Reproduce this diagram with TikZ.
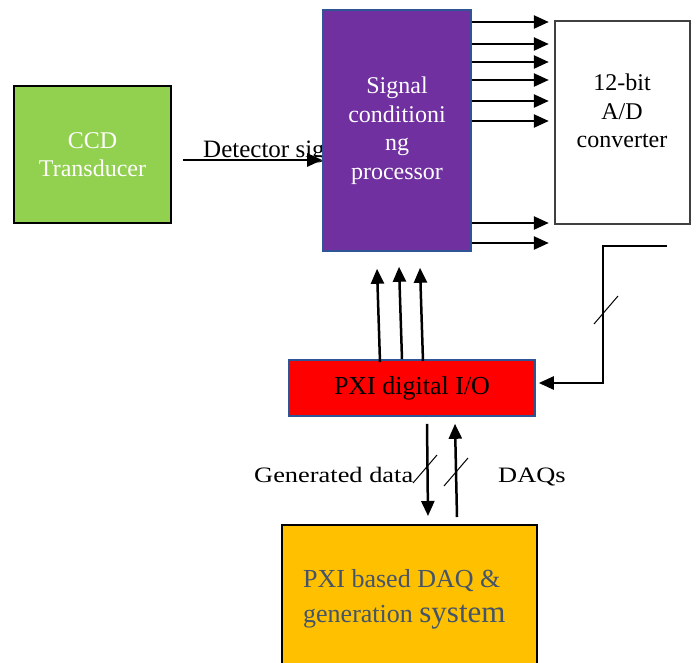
\documentclass[tikz,border=0pt]{standalone}
\usepackage{fontspec}
\setmainfont{Liberation Serif}
\newfontfamily\widefont[FakeStretch=1.2]{Liberation Serif}
\usetikzlibrary{arrows.meta,calc}

\definecolor{ccdgreen}{HTML}{92D050}
\definecolor{procpurple}{HTML}{7030A0}
\definecolor{edgeblue}{HTML}{2F5597}
\definecolor{pxired}{HTML}{FF0000}
\definecolor{daqyellow}{HTML}{FFC000}
\definecolor{daqtext}{HTML}{44546A}
\definecolor{adcedge}{HTML}{404040}

\begin{document}
\begin{tikzpicture}[x=1pt,y=-1pt,
  box/.style={draw, line width=1.6pt, inner sep=0pt},
  conn/.style={line width=2.5pt, -{Triangle[length=15pt,width=13pt]}},
  slash/.style={line width=1pt},
  lbl/.style={font=\fontsize{24}{28.5}\selectfont, inner sep=0pt}
]
\clip (0,0) rectangle (696,662);
\fill[white] (0,0) rectangle (696,662);

% CCD transducer
\node[box, fill=ccdgreen, draw=black, minimum width=157pt, minimum height=137pt,
      text=white, align=center, lbl] (ccd) at (92.5,154.5) {CCD\\Transducer};

% label behind the processor box
\node[lbl, anchor=base west, font=\fontsize{25}{30}\selectfont] (dlabel) at (203,157) {Detector signal};

% signal conditioning processor
\node[box, fill=procpurple, draw=edgeblue, minimum width=148pt, minimum height=241pt,
      text=white, align=center, lbl] (proc) at (397,130.5)
      {Signal\\conditioni\\ng\\processor};

\coordinate (dstart) at (183,160);
\draw[conn] (dstart) -- (dstart -| proc.west);

% A/D converter
\node[box, fill=white, draw=adcedge, line width=1.2pt, minimum width=135pt, minimum height=203pt] (adc) at (622.5,122.5) {};
\node[lbl, align=center] (adctext) at (622,111) {12-bit\\A/D\\converter};

% parallel lines to the A/D converter
\foreach \yy in {22,44,62,80,101,121,223,243}{
  \draw[conn] (proc.east |- 0,\yy) -- ++(77,0);
}

% PXI digital I/O
\node[box, fill=pxired, draw=edgeblue, minimum width=246pt, minimum height=56pt,
      font=\fontsize{26}{30}\selectfont] (pxi) at (412,388) {PXI digital I/O};

% control lines to the processor
\draw[conn] ($(pxi.north)+(-32,3)$) -- ($(proc.south)+(-20,17)$);
\draw[conn] ($(pxi.north)+(-10,0)$) -- ($(proc.south)+(2,15)$);
\draw[conn] ($(pxi.north)+(11,2)$) -- ($(proc.south)+(23,16)$);

% feedback from the A/D converter
\coordinate (fb) at (667,246);
\draw[conn] (fb) -- (603,246) -- (603,383) -- ($(pxi.east)+(3,-5)$);
\draw[slash] (594,324) -- (618,296);

% PXI based DAQ & generation system
\node[box, fill=daqyellow, draw=black, line width=2pt, minimum width=255pt, minimum height=155pt] (daq) at (409.5,602.5) {};
\node[anchor=base west, text=daqtext, align=left, inner sep=0pt,
      font=\fontsize{26}{35}\selectfont] (daqtext) at (303,622)
      {PXI based DAQ \&\\generation {\fontsize{31}{35}\selectfont system}};

% data lines between PXI I/O and DAQ system
\draw[conn] ($(pxi.south)+(15,7)$) -- ($(daq.north)+(18.5,-8)$);
\draw[conn] ($(daq.north)+(47.5,-7)$) -- ($(pxi.south)+(43,7)$);
\draw[slash] (413,483) -- (437,455);
\draw[slash] (444,486) -- (468,458);

\node[anchor=base west, inner sep=0pt, font=\widefont\fontsize{22}{26}\selectfont] (gen) at (254,482) {Generated data};
\node[anchor=base west, inner sep=0pt, font=\widefont\fontsize{22}{26}\selectfont] (daqs) at (498,482) {DAQs};
\end{tikzpicture}
\end{document}
